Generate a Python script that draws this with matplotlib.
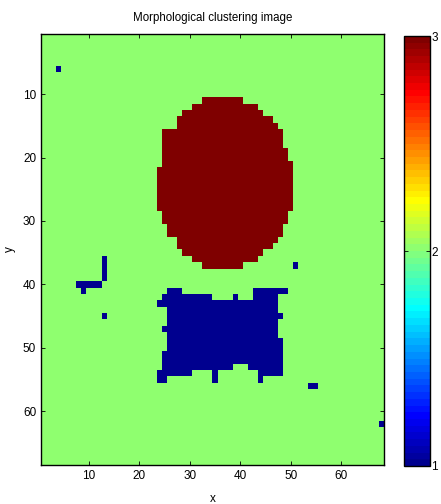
import numpy as np
import matplotlib
matplotlib.use('Agg')
import matplotlib.pyplot as plt
from matplotlib.colors import ListedColormap

plt.rcParams['font.family'] = ['Liberation Sans', 'DejaVu Sans']
plt.rcParams['font.size'] = 8.5

n = 68
background = 2

# red cluster (value 3): row, first col, last col (1-based)
red_rows = [11, 12, 13, 14, 15, 16, 17, 18, 19, 20, 21, 22, 23, 24, 25, 26, 27, 28,
            29, 30, 31, 32, 33, 34, 35, 36, 37]
red_left = [33, 31, 29, 28, 28, 25, 25, 25, 25, 25, 25, 24, 24, 24, 24, 24, 24, 24,
            25, 25, 26, 26, 28, 28, 29, 31, 33]
red_right = [40, 43, 44, 46, 47, 48, 48, 48, 49, 49, 50, 50, 50, 50, 50, 50, 50, 50,
             49, 49, 48, 48, 47, 46, 44, 43, 40]

# blue cluster (value 1): row, first col, last col (1-based)
blue_rows = [6,
             36, 37, 38, 39, 40, 41, 45, 37,
             41, 41, 42, 42, 42, 43, 44, 45, 46, 47, 48, 49, 50, 51, 52,
             53, 53, 54, 54, 54, 55, 55, 55,
             56, 62]
blue_left = [4,
             13, 13, 13, 13, 8, 9, 13, 51,
             26, 43, 25, 39, 43, 24, 26, 26, 26, 25, 26, 26, 26, 25, 25,
             25, 42, 24, 35, 44, 24, 35, 44,
             54, 68]
blue_right = [4,
              13, 13, 13, 13, 12, 9, 13, 51,
              28, 49, 34, 39, 47, 47, 47, 48, 47, 47, 47, 48, 48, 48, 48,
              38, 48, 30, 35, 48, 25, 35, 44,
              55, 68]

img = np.full((n, n), background, dtype=float)
for r, a, b in zip(red_rows, red_left, red_right):
    img[r - 1, a - 1:b] = 3
for r, a, b in zip(blue_rows, blue_left, blue_right):
    img[r - 1, a - 1:b] = 1


def matlab_jet(m=64):
    # same construction as MATLAB's jet(m)
    k = int(np.ceil(m / 4))
    u = np.concatenate([np.arange(1, k + 1) / k, np.ones(k - 1), np.arange(k, 0, -1) / k])
    g = int(np.ceil(k / 2)) - (1 if m % 4 == 1 else 0) + np.arange(1, len(u) + 1)
    r = g + k
    b = g - k
    J = np.zeros((m, 3))
    ok = r <= m
    J[r[ok] - 1, 0] = u[ok]
    ok = g <= m
    J[g[ok] - 1, 1] = u[ok]
    ok = b >= 1
    J[b[ok] - 1, 2] = u[ok]
    return ListedColormap(J)


fig = plt.figure(figsize=(4.41, 5.04), dpi=100)
ax = fig.add_axes([41 / 441, 1 - 465 / 504, 343 / 441, 431 / 504])
im = ax.imshow(img, cmap=matlab_jet(64), vmin=1, vmax=3, aspect='auto',
               interpolation='nearest', extent=(0.5, n + 0.5, n + 0.5, 0.5))
ax.set_xticks([10, 20, 30, 40, 50, 60])
ax.set_yticks([10, 20, 30, 40, 50, 60])
ax.tick_params(direction='in', top=True, right=True, length=3, width=0.6)
for s in ax.spines.values():
    s.set_linewidth(1.0)
ax.set_title('Morphological clustering image', fontsize=8.3, pad=9)
ax.set_xlabel('x', labelpad=8)
ax.set_ylabel('y', labelpad=5)

cax = fig.add_axes([404 / 441, 1 - 466 / 504, 26 / 441, 430 / 504])
cb = fig.colorbar(im, cax=cax, ticks=[1, 2, 3])
cb.ax.tick_params(direction='in', length=3, width=0.6, pad=1, left=True)
cb.outline.set_linewidth(1.0)

fig.savefig('out.png', dpi=100)
